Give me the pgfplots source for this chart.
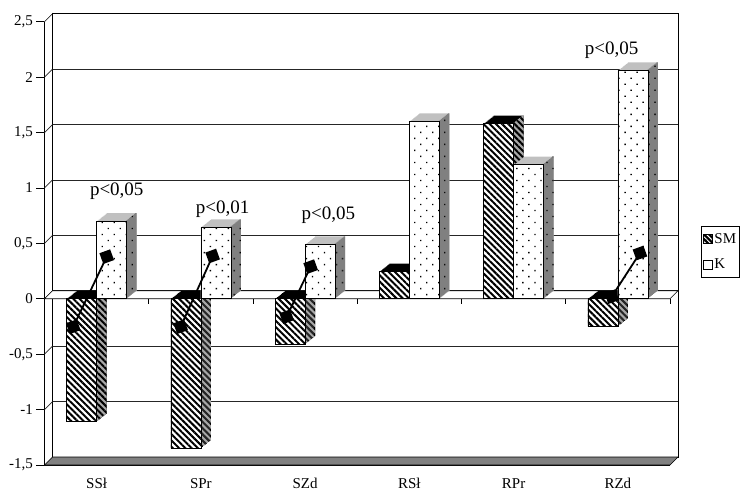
\documentclass[border=0pt]{standalone}
\usepackage{fontspec}
\setmainfont{Liberation Serif}
\usepackage{pgfplots}
\usepackage{pgfplotstable}
\pgfplotsset{compat=1.18}
\usetikzlibrary{patterns.meta}

\pgfplotstableread{
x SM K
0 -1.11 0.70
1 -1.35 0.645
2 -0.41 0.49
3 0.245 1.60
4 1.58 1.21
5 -0.25 2.06
}\datatable

\definecolor{topK}{HTML}{C0C0C0}
\definecolor{sideK}{HTML}{808080}
\definecolor{sideSM}{HTML}{A8A8A8}
\definecolor{floorc}{HTML}{808080}

\tikzset{
  hatchSM/.style={pattern={Lines[angle=-45,distance=4.4pt,line width=2pt]}, pattern color=black},
  dotsK/.style={pattern={Dots[angle=45,distance=8.5pt,radius=0.95pt]}, pattern color=black},
}

\begin{document}
\begin{tikzpicture}
\useasboundingbox (0,0) rectangle (748pt,-493pt);
% back wall
\begin{axis}[
  at={(52.5pt,-457pt)}, anchor=south west,
  scale only axis, width=625.5pt, height=443.3pt,
  xmin=-0.5, xmax=5.5, ymin=-1.5, ymax=2.5,
  xtick=\empty, ytick={-1.5,-1,...,2.5}, yticklabels={},
  major tick length=0pt,
  ymajorgrids, grid style={black!85, line width=0.7pt},
  axis line style={black, line width=0.8pt},
]
\end{axis}
% front
\begin{axis}[
  at={(44.5pt,-465pt)}, anchor=south west,
  scale only axis, width=625.5pt, height=443.3pt,
  xmin=-0.5, xmax=5.5, ymin=-1.5, ymax=2.5,
  axis x line*=bottom, axis y line*=left,
  axis line style={black, line width=0.8pt, -},
  ytick={-1.5,-1,...,2.5},
  xtick={0,...,5}, xticklabels={SSł,SPr,SZd,RSł,RPr,RZd},
  minor xtick={-0.5,0.5,...,5.5},
  tick align=outside,
  major tick length=8pt, minor tick length=5pt,
  xtick style={draw=none},
  minor x tick style={black, line width=0.8pt},
  y tick style={black, line width=0.8pt},
  yticklabel style={font=\fontsize{15}{17}\selectfont},
  xticklabel style={font=\fontsize{15}{17}\selectfont, yshift=-2pt},
  /pgf/number format/.cd, use comma, assume math mode=true, 1000 sep={},
  /pgfplots/.cd,
  clip=false,
  legend style={at={(1.049,0.539)}, anchor=north west, draw=black, line width=0.6pt,
    font=\fontsize{15}{17}\selectfont, row sep=10pt, inner xsep=1.5pt, inner ysep=5pt,
    cells={anchor=west}},
  legend image code/.code={\draw[#1, line width=0.5pt] (0pt,-4.5pt) rectangle (9pt,4.5pt);},
]
% floor
\fill[floorc, draw=black, line width=0.6pt] (axis cs:-0.5,-1.5) -- (axis cs:5.5,-1.5) -- ([shift={(8pt,8pt)}]axis cs:5.5,-1.5) -- ([shift={(8pt,8pt)}]axis cs:-0.5,-1.5) -- cycle;
% left wall
\fill[white, draw=black, line width=0.6pt] (axis cs:-0.5,-1.5) -- (axis cs:-0.5,2.5) -- ([shift={(8pt,8pt)}]axis cs:-0.5,2.5) -- ([shift={(8pt,8pt)}]axis cs:-0.5,-1.5) -- cycle;
\pgfplotsinvokeforeach{-1,-0.5,0,0.5,1,1.5,2}{\draw[black!85, line width=0.7pt] (axis cs:-0.5,#1) -- ([shift={(8pt,8pt)}]axis cs:-0.5,#1);}
% zero plane
\fill[white, draw=black, line width=0.6pt] (axis cs:-0.5,0) -- (axis cs:5.5,0) -- ([shift={(8pt,8pt)}]axis cs:5.5,0) -- ([shift={(8pt,8pt)}]axis cs:-0.5,0) -- cycle;
\pgfplotsinvokeforeach{0.5,1.5,2.5,3.5,4.5,5.5}{\draw[line width=0.7pt] (axis cs:#1,0) -- ([yshift=-5pt]axis cs:#1,0);}

% SM bars: top/extrusion
\pgfplotsinvokeforeach{0,...,10}{
  \addplot[ybar, bar width=30pt, bar shift=-15pt, draw=none, fill=black, forget plot, xshift=#1pt, yshift=0.8*#1pt] table[x=x,y=SM]{\datatable};
}
% SM side
\pgfplotsinvokeforeach{0,...,10}{
  \addplot[ybar, bar width=1.5pt, bar shift=-0.75pt, draw=none, fill=sideSM, postaction={hatchSM}, forget plot, xshift=#1pt, yshift=0.8*#1pt] table[x=x,y=SM]{\datatable};
}
% SM front
\addplot[ybar, bar width=30pt, bar shift=-15pt, fill=white, draw=black, line width=0.6pt, postaction={hatchSM}, forget plot] table[x=x,y=SM]{\datatable};

% K bars: top/extrusion
\pgfplotsinvokeforeach{0,...,10}{
  \addplot[ybar, bar width=30pt, bar shift=15pt, draw=none, fill=topK, forget plot, xshift=#1pt, yshift=0.8*#1pt] table[x=x,y=K]{\datatable};
}
% K side
\pgfplotsinvokeforeach{0,...,10}{
  \addplot[ybar, bar width=1.5pt, bar shift=29.25pt, draw=none, fill=sideK, postaction={dotsK}, forget plot, xshift=#1pt, yshift=0.8*#1pt] table[x=x,y=K]{\datatable};
}
% K front
\addplot[ybar, bar width=30pt, bar shift=15pt, fill=white, draw=black, line width=0.6pt, postaction={dotsK}, forget plot] table[x=x,y=K]{\datatable};

% markers
\pgfplotsset{mk/.style={black, line width=1.8pt, mark=square*, mark size=4.8pt, mark options={rotate=20, solid}, forget plot}}
\addplot[mk] coordinates {(-0.224,-0.252) (0.097,0.380)};
\addplot[mk] coordinates {(0.806,-0.252) (1.113,0.386)};
\addplot[mk] coordinates {(1.823,-0.162) (2.053,0.290)};
\addplot[mk] coordinates {(4.941,0.019) (5.212,0.413)};

% p labels
\node[font=\fontsize{19}{21}\selectfont] at (axis cs:0.193,0.967) {p<0,05};
\node[font=\fontsize{19}{21}\selectfont] at (axis cs:1.209,0.811) {p<0,01};
\node[font=\fontsize{19}{21}\selectfont] at (axis cs:2.222,0.756) {p<0,05};
\node[font=\fontsize{19}{21}\selectfont] at (axis cs:4.941,2.239) {p<0,05};

\addlegendimage{fill=black, postaction={pattern={Lines[angle=-45,distance=3.5pt,line width=1pt]}, pattern color=white}}
\addlegendentry{SM}
\addlegendimage{fill=white, postaction={pattern={Dots[distance=20pt,radius=0.8pt,xshift=4.5pt,yshift=-2.5pt]}, pattern color=black}}
\addlegendentry{K}
\end{axis}
\end{tikzpicture}
\end{document}
